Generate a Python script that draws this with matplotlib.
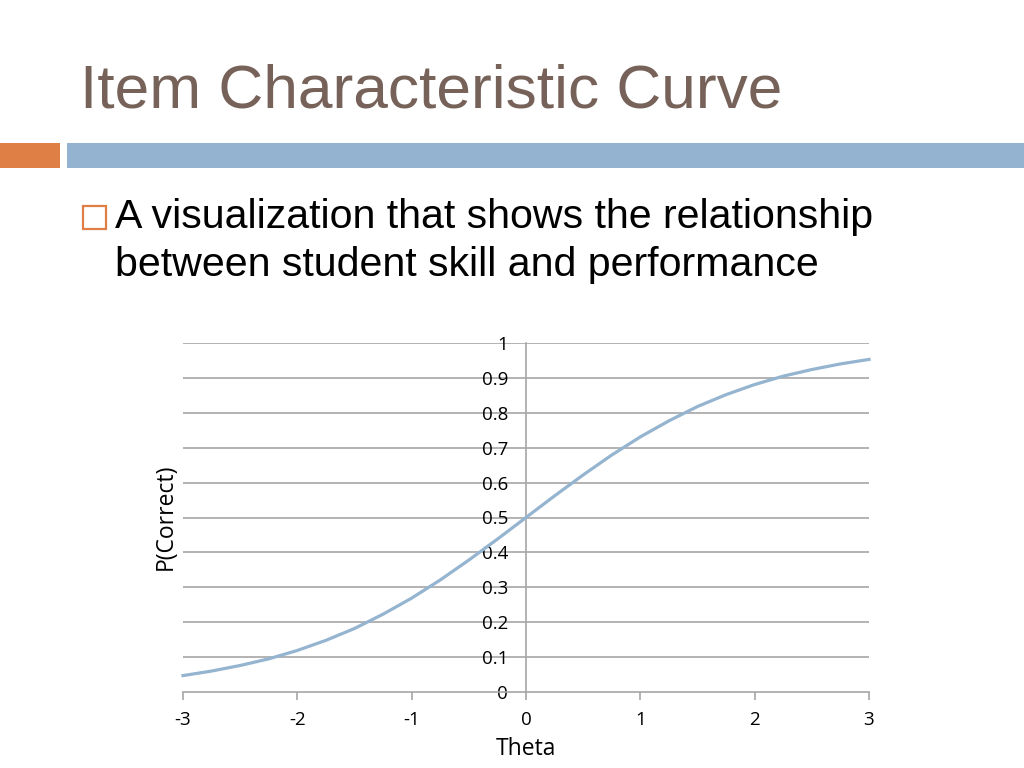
import matplotlib
matplotlib.use("Agg")
import matplotlib.pyplot as plt
from matplotlib.patches import Rectangle

# ---- data ----
theta = [-3.0, -2.75, -2.5, -2.25, -2.0, -1.75, -1.5, -1.25, -1.0, -0.75, -0.5, -0.25,
         0.0, 0.25, 0.5, 0.75, 1.0, 1.25, 1.5, 1.75, 2.0, 2.25, 2.5, 2.75, 3.0]
p_correct = [0.047, 0.060, 0.076, 0.095, 0.119, 0.148, 0.182, 0.223, 0.269, 0.321, 0.378, 0.438,
             0.500, 0.562, 0.622, 0.679, 0.731, 0.777, 0.818, 0.852, 0.881, 0.905, 0.924, 0.940, 0.953]
x_ticks = [-3, -2, -1, 0, 1, 2, 3]
y_ticks = [0, 0.1, 0.2, 0.3, 0.4, 0.5, 0.6, 0.7, 0.8, 0.9, 1]
y_tick_labels = ["0", "0.1", "0.2", "0.3", "0.4", "0.5", "0.6", "0.7", "0.8", "0.9", "1"]

title_text = "Item Characteristic Curve"
bullet_lines = ["A visualization that shows the relationship",
                "between student skill and performance"]

W, H = 1024, 768
fig = plt.figure(figsize=(W / 100, H / 100), dpi=100)
fig.patch.set_facecolor("white")

def fx(px):
    return px / W

def fy(py):
    return 1 - py / H

# title
fig.text(fx(80), fy(107), title_text, fontsize=44.8, color="#77625A",
         family="Liberation Sans", ha="left", va="baseline")

# header bars
fig.patches.append(Rectangle((fx(0), fy(168)), fx(60), (168 - 143) / H,
                             transform=fig.transFigure, facecolor="#E07F45", edgecolor="none"))
fig.patches.append(Rectangle((fx(67), fy(168)), fx(1024 - 67), (168 - 143) / H,
                             transform=fig.transFigure, facecolor="#93B3D1", edgecolor="none"))

# bullet square
fig.patches.append(Rectangle((fx(83), fy(229)), fx(23), 23 / H,
                             transform=fig.transFigure, facecolor="none",
                             edgecolor="#E07F45", linewidth=1.6))
# bullet text
fig.text(fx(115), fy(228), bullet_lines[0], fontsize=29.6, color="black",
         family="Liberation Sans", ha="left", va="baseline")
fig.text(fx(115), fy(276), bullet_lines[1], fontsize=29.6, color="black",
         family="Liberation Sans", ha="left", va="baseline")

# chart
ax = fig.add_axes([fx(183), fy(692), fx(869 - 183), (692 - 343) / H])
ax.set_xlim(-3, 3)
ax.set_ylim(0, 1)
ax.plot(theta, p_correct, color="#94B4D0", linewidth=2.3, zorder=3, clip_on=False)

for yv in y_ticks[1:]:
    ax.axhline(yv, color="#A6A6A6", linewidth=1.2, zorder=1)

for s in ["top", "right"]:
    ax.spines[s].set_visible(False)
ax.spines["left"].set_position(("data", 0))
ax.spines["left"].set_color("#A6A6A6")
ax.spines["left"].set_linewidth(1.2)
ax.spines["bottom"].set_color("#A6A6A6")
ax.spines["bottom"].set_linewidth(1.2)

ax.set_xticks(x_ticks)
ax.set_xticklabels([str(v) for v in x_ticks])
ax.set_yticks(y_ticks)
ax.set_yticklabels(y_tick_labels)
ax.tick_params(axis="x", direction="out", length=6, width=1.2, color="#A6A6A6",
               labelsize=13.5, pad=7.5)
ax.tick_params(axis="y", length=0, labelsize=13.5, pad=13)
for lab in ax.get_xticklabels() + ax.get_yticklabels():
    lab.set_family("Open Sans")

ax.set_xlabel("Theta", fontsize=16.5, family="Open Sans", labelpad=6)
fig.text(fx(166), fy(517), "P(Correct)", rotation=90, fontsize=16.5, family="Open Sans",
         ha="center", va="center")
ax.patch.set_alpha(0)

fig.savefig("out.png", dpi=100)
